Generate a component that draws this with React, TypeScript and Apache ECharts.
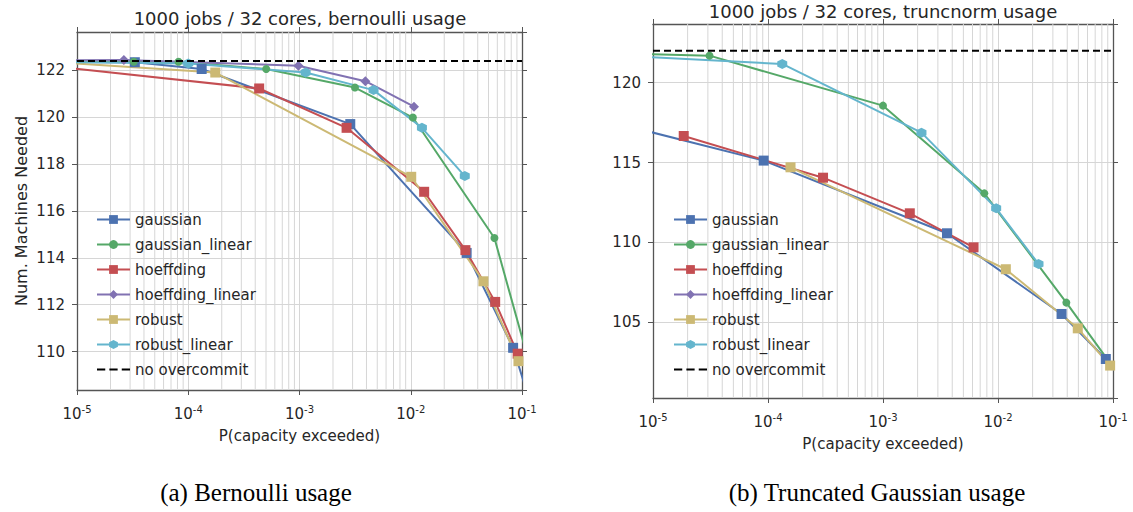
import React, { useEffect, useRef } from "react";
import * as echarts from "echarts";

const methodNames = ["gaussian", "gaussian_linear", "hoeffding", "hoeffding_linear", "robust", "robust_linear"];
const refName = "no overcommit";

// (a) Bernoulli usage: [P(capacity exceeded), machines needed]
const bernGaussian = [[1e-6, 122.38], [3.31e-5, 122.35], [1.32e-4, 122.06], [2.86e-3, 119.71], [3.18e-2, 114.21], [8.32e-2, 110.16], [0.126, 107.4]];
const bernGaussianLinear = [[1e-6, 122.35], [3.24e-5, 122.37], [8.18e-5, 122.37], [5.02e-4, 122.06], [3.15e-3, 121.27], [1.045e-2, 119.99], [5.65e-2, 114.85], [0.126, 108.9]];
const bernHoeffding = [[1e-6, 122.57], [4.34e-4, 121.23], [2.65e-3, 119.55], [1.32e-2, 116.82], [3.1e-2, 114.33], [5.74e-2, 112.12], [9.14e-2, 109.91]];
const bernHoeffdingLinear = [[1e-6, 122.42], [2.64e-5, 122.44], [9.77e-4, 122.2], [3.91e-3, 121.54], [1.07e-2, 120.45]];
const bernRobust = [[1e-6, 122.61], [1.75e-4, 121.91], [1.01e-2, 117.46], [4.5e-2, 113.0], [9.29e-2, 109.59]];
const bernRobustLinear = [[1e-6, 122.4], [1.0e-4, 122.3], [1.135e-3, 121.91], [4.63e-3, 121.16], [1.26e-2, 119.55], [3.06e-2, 117.49]];
const bernNoOvercommit = 122.4;

// (b) Truncated Gaussian usage
const truncGaussian = [[1e-6, 118.69], [9.17e-5, 115.12], [3.6e-3, 110.57], [3.57e-2, 105.52], [8.66e-2, 102.7], [0.126, 101.19]];
const truncGaussianLinear = [[1e-6, 121.93], [3.1e-5, 121.69], [1.0e-3, 118.56], [7.6e-3, 113.07], [3.93e-2, 106.23], [0.126, 101.2]];
const truncHoeffding = [[1.85e-5, 116.66], [3.01e-4, 114.05], [1.71e-3, 111.82], [6.13e-3, 109.69]];
const truncHoeffdingLinear: number[][] = [];
const truncRobust = [[1.57e-4, 114.7], [1.17e-2, 108.32], [4.94e-2, 104.62], [9.44e-2, 102.29]];
const truncRobustLinear = [[1e-6, 121.96], [1.33e-4, 121.17], [2.16e-3, 116.87], [9.64e-3, 112.13], [2.25e-2, 108.65]];
const truncNoOvercommit = 122.0;

const minorTicks: number[] = [];
for (let e = -5; e <= -2; e++) for (let m = 2; m <= 9; m++) minorTicks.push(m * Math.pow(10, e));

const FONT = "DejaVu Sans";
const TXT = "#262626";
const GRIDC = "#d6d6d6";
const AXC = "#555555";

const styles = [
  { color: "#4C72B0", symbol: "rect", size: 10 },
  { color: "#55A868", symbol: "circle", size: 8 },
  { color: "#C44E52", symbol: "rect", size: 10 },
  { color: "#8172B2", symbol: "diamond", size: 10 },
  { color: "#CCB974", symbol: "rect", size: 10 },
  { color: "#64B5CD", symbol: "path://M5,0L9.33,2.5L9.33,7.5L5,10L0.67,7.5L0.67,2.5Z", size: 10 },
];

const dashIcon = "path://M0,0L0.001,0M0,10L0.001,10M0,4h8v2h-8zM12,4h8v2h-8zM24,4h8v2h-8z";

function pts(arr: number[][]) {
  return arr.map((p) =>
    p[0] < 1e-5 || p[0] > 0.1 ? { value: p, symbol: "none" } : { value: p }
  );
}

function buildGrid(gi: number, data: number[][][], ref: number, lo: number, hi: number) {
  const series: any[] = [];
  const minorData: any[] = [];
  minorTicks.forEach((v) => {
    minorData.push([v, lo], [v, hi], [v, "-"]);
  });
  series.push({
    type: "line",
    name: "minor" + gi,
    xAxisIndex: gi * 2,
    yAxisIndex: gi * 2,
    data: minorData,
    symbol: "none",
    connectNulls: false,
    z: 1,
    silent: true,
    lineStyle: { color: GRIDC, width: 1 },
  });
  data.forEach((d, i) => {
    const s = styles[i];
    series.push({
      type: "line",
      name: methodNames[i],
      xAxisIndex: gi * 2,
      yAxisIndex: gi * 2,
      data: pts(d),
      clip: true,
      z: 3,
      symbol: s.symbol,
      symbolSize: s.size,
      showAllSymbol: true,
      lineStyle: { color: s.color, width: 2 },
      itemStyle: { color: s.color },
      emphasis: { disabled: true },
    });
  });
  series.push({
    type: "line",
    name: refName,
    xAxisIndex: gi * 2,
    yAxisIndex: gi * 2,
    data: [[1e-5, ref], [0.1, ref]],
    symbol: "none",
    z: 4,
    lineStyle: { color: "#000", width: 2, type: [7, 4] },
    itemStyle: { color: "#000" },
  });
  return series;
}

function xAxes(gi: number) {
  const base = {
    type: "log",
    logBase: 10,
    min: 1e-5,
    max: 0.1,
    gridIndex: gi,
  };
  return [
    {
      ...base,
      position: "bottom",
      name: "P(capacity exceeded)",
      nameLocation: "middle",
      nameGap: 38,
      nameTextStyle: { fontFamily: FONT, fontSize: 15, color: TXT },
      axisLine: { show: true, lineStyle: { color: AXC, width: 1.3 } },
      axisTick: { show: true, inside: false, length: 5, lineStyle: { color: AXC } },
      splitLine: { show: true, lineStyle: { color: GRIDC, width: 1 } },
      axisLabel: {
        margin: 14,
        formatter: (v: number) => "{b|10}{s|" + Math.round(Math.log10(v)) + "}",
        rich: {
          b: { fontFamily: FONT, fontSize: 15, color: TXT, lineHeight: 20 },
          s: { fontFamily: FONT, fontSize: 10, color: TXT, verticalAlign: "top", lineHeight: 12 },
        },
      },
    },
    {
      ...base,
      position: "top",
      axisLine: { show: true, lineStyle: { color: AXC, width: 1.3 } },
      axisTick: { show: true, inside: false, length: 5, lineStyle: { color: AXC } },
      splitLine: { show: false },
      axisLabel: { show: false },
    },
  ];
}

function yAxes(gi: number, min: number, max: number, step: number, name?: string) {
  const base = { type: "value", min, max, minInterval: step, maxInterval: step, gridIndex: gi };
  return [
    {
      ...base,
      position: "left",
      name: name || "",
      nameLocation: "middle",
      nameGap: 48,
      nameTextStyle: { fontFamily: FONT, fontSize: 16, color: TXT },
      axisLine: { show: true, lineStyle: { color: AXC, width: 1.3 } },
      axisTick: { show: true, inside: false, length: 5, lineStyle: { color: AXC } },
      splitLine: { show: true, lineStyle: { color: GRIDC, width: 1 } },
      axisLabel: { fontFamily: FONT, fontSize: 15, color: TXT, margin: 12, showMinLabel: false, showMaxLabel: false },
    },
    {
      ...base,
      position: "right",
      axisLine: { show: true, lineStyle: { color: AXC, width: 1.3 } },
      axisTick: { show: true, inside: false, length: 5, lineStyle: { color: AXC } },
      splitLine: { show: false },
      axisLabel: { show: false },
    },
  ];
}

function legend(left: number, top: number) {
  return {
    orient: "vertical",
    left,
    top,
    itemWidth: 33,
    itemHeight: 11,
    itemGap: 8,
    selectedMode: false,
    textStyle: { fontFamily: FONT, fontSize: 15, color: TXT, lineHeight: 17 },
    data: [...methodNames, { name: refName, icon: dashIcon, itemStyle: { color: "#000" } }],
  };
}

const BERN_MIN = 108.36, BERN_MAX = 123.64;
const TRUNC_MIN = 100.26, TRUNC_MAX = 123.67;

export default function App() {
  const ref = useRef<HTMLDivElement>(null);
  useEffect(() => {
    if (!ref.current) return;
    const chart = echarts.init(ref.current, null, { renderer: "svg" });
    const option: any = {
      animation: false,
      backgroundColor: "#ffffff",
      title: [
        {
          text: "1000 jobs / 32 cores, bernoulli usage",
          left: 300,
          top: 9,
          padding: 0,
          textAlign: "center",
          textStyle: { fontFamily: FONT, fontSize: 18, fontWeight: "normal", color: TXT },
        },
        {
          text: "1000 jobs / 32 cores, truncnorm usage",
          left: 883,
          top: 2,
          padding: 0,
          textAlign: "center",
          textStyle: { fontFamily: FONT, fontSize: 18, fontWeight: "normal", color: TXT },
        },
      ],
      grid: [
        { left: 77, top: 32, width: 445, height: 358, containLabel: false },
        { left: 653, top: 24, width: 460, height: 374, containLabel: false },
      ],
      xAxis: [...xAxes(0), ...xAxes(1)],
      yAxis: [
        ...yAxes(0, BERN_MIN, BERN_MAX, 2, "Num. Machines Needed"),
        ...yAxes(1, TRUNC_MIN, TRUNC_MAX, 5),
      ],
      legend: [legend(91, 206), legend(668, 206)],
      series: [
        ...buildGrid(0, [bernGaussian, bernGaussianLinear, bernHoeffding, bernHoeffdingLinear, bernRobust, bernRobustLinear], bernNoOvercommit, BERN_MIN, BERN_MAX),
        ...buildGrid(1, [truncGaussian, truncGaussianLinear, truncHoeffding, truncHoeffdingLinear, truncRobust, truncRobustLinear], truncNoOvercommit, TRUNC_MIN, TRUNC_MAX),
      ],
      graphic: [
        {
          type: "text",
          x: 256,
          y: 492,
          style: { text: "(a) Bernoulli usage", fontFamily: "Liberation Serif", fontSize: 25, fill: "#000", align: "center", verticalAlign: "middle" },
        },
        {
          type: "text",
          x: 877,
          y: 492,
          style: { text: "(b) Truncated Gaussian usage", fontFamily: "Liberation Serif", fontSize: 25, fill: "#000", align: "center", verticalAlign: "middle" },
        },
      ],
    };
    chart.setOption(option);
    return () => chart.dispose();
  }, []);
  return (
    <div
      ref={ref}
      style={{ position: "absolute", left: 0, top: 0, width: 1133, height: 512, background: "#fff" }}
    />
  );
}
